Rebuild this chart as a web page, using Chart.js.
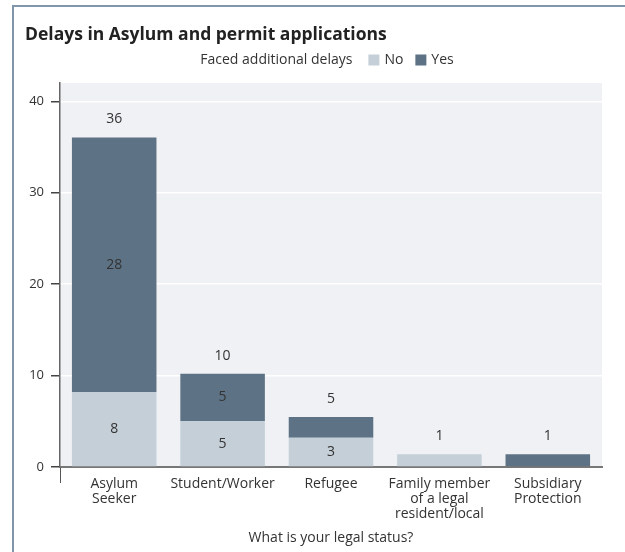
<!DOCTYPE html>
<html>
<head>
<meta charset="utf-8">
<script src="https://cdn.jsdelivr.net/npm/chart.js@4.4.0/dist/chart.umd.min.js"></script>
<style>
  html, body { margin: 0; padding: 0; background: #fff; }
  #wrap { position: relative; width: 625px; height: 552px; overflow: hidden; }
  #frame { position: absolute; left: 12px; top: 5px; width: 700px; height: 700px;
           border-left: 2px solid #8196ab; border-top: 2px solid #8196ab; }
  canvas { position: absolute; left: 0; top: 0; }
</style>
</head>
<body>
<div id="wrap">
  <div id="frame"></div>
  <canvas id="chart" width="625" height="552"></canvas>
</div>
<script>
const categories = [['Asylum', 'Seeker'], 'Student/Worker', 'Refugee', ['Family member', 'of a legal', 'resident/local'], ['Subsidiary', 'Protection']];
const noValues = [8.2, 5.0, 3.2, 1.4, 0];
const yesValues = [27.85, 5.2, 2.28, 0, 1.4];
const yTicks = [0, 10, 20, 30, 40];

const FONT = "'Open Sans', 'DejaVu Sans', sans-serif";
const TEXT = '#333';

const plotBg = {
    id: 'plotBg',
    beforeDraw(chart) {
        const { ctx, chartArea: a } = chart;
        ctx.save();
        ctx.fillStyle = '#f0f1f4';
        ctx.fillRect(a.left, a.top, a.right - a.left, a.bottom - a.top);
        ctx.restore();
    }
};

const barLabels = {
    id: 'barLabels',
    afterDatasetsDraw(chart) {
        const { ctx } = chart;
        const y = chart.scales.y;
        ctx.save();
        ctx.font = '14px ' + FONT;
        ctx.fillStyle = TEXT;
        ctx.textAlign = 'center';
        ctx.textBaseline = 'middle';
        chart.data.datasets.forEach((ds, i) => {
            chart.getDatasetMeta(i).data.forEach((bar, j) => {
                const v = ds.data[j];
                if (v >= 2.5) ctx.fillText(Math.round(v), bar.x, (bar.y + bar.base) / 2);
            });
        });
        const bars = chart.getDatasetMeta(0).data;
        bars.forEach((bar, j) => {
            const total = noValues[j] + yesValues[j];
            ctx.fillText(Math.round(total), bar.x, y.getPixelForValue(total) - 18);
        });
        ctx.restore();
    }
};

const inlineLegend = {
    id: 'inlineLegend',
    afterDraw(chart) {
        const { ctx } = chart;
        const cy = 60;
        const box = 11;
        ctx.save();
        ctx.font = '14px ' + FONT;
        ctx.textBaseline = 'middle';
        ctx.textAlign = 'left';
        const title = 'Faced additional delays';
        const items = chart.data.datasets.map(d => ({ text: d.label, color: d.backgroundColor }));
        let w = ctx.measureText(title).width + 16;
        items.forEach((it, k) => { w += box + 5 + ctx.measureText(it.text).width + (k < items.length - 1 ? 12 : 0); });
        let x = 327 - w / 2;
        ctx.fillStyle = TEXT;
        ctx.fillText(title, x, cy);
        x += ctx.measureText(title).width + 16;
        items.forEach(it => {
            ctx.fillStyle = it.color;
            ctx.fillRect(x, cy - box / 2, box, box);
            x += box + 5;
            ctx.fillStyle = TEXT;
            ctx.fillText(it.text, x, cy);
            x += ctx.measureText(it.text).width + 12;
        });
        ctx.restore();
    }
};

new Chart(document.getElementById('chart'), {
    type: 'bar',
    data: {
        labels: categories,
        datasets: [
            { label: 'No', data: noValues, backgroundColor: '#c5cfd8' },
            { label: 'Yes', data: yesValues, backgroundColor: '#5d7385' }
        ]
    },
    options: {
        responsive: false,
        animation: false,
        layout: { padding: { left: 25, right: 23, top: 0, bottom: 6 } },
        datasets: { bar: { barPercentage: 0.78, categoryPercentage: 1 } },
        plugins: {
            legend: { display: false },
            tooltip: { enabled: false },
            title: {
                display: true,
                text: 'Delays in Asylum and permit applications',
                align: 'start',
                color: '#222',
                font: { family: FONT, size: 17.5, weight: 'bold', lineHeight: 1.2 },
                padding: { top: 25, bottom: 37 }
            }
        },
        scales: {
            x: {
                stacked: true,
                grid: {
                    display: true,
                    offset: true,
                    drawOnChartArea: false,
                    tickLength: 16,
                    tickColor: ctx => ctx.index === 0 ? '#555' : 'rgba(0,0,0,0)'
                },
                border: { color: '#777', width: 2 },
                ticks: { color: TEXT, font: { family: FONT, size: 14, lineHeight: 1.1 }, maxRotation: 0, autoSkip: false, padding: -7 },
                title: { display: true, text: 'What is your legal status?', color: TEXT, font: { family: FONT, size: 14 }, padding: { top: 14, bottom: 0 } }
            },
            y: {
                stacked: true,
                min: 0,
                max: 42,
                afterBuildTicks: s => { s.ticks = yTicks.map(v => ({ value: v })); },
                afterFit: s => { s.width = 35; },
                grid: { color: '#fff', lineWidth: 1.5, tickColor: '#444', tickLength: 9 },
                border: { color: '#666', width: 1.5 },
                ticks: { color: TEXT, font: { family: FONT, size: 13 }, padding: 7 }
            }
        }
    },
    plugins: [plotBg, barLabels, inlineLegend]
});
</script>
</body>
</html>
